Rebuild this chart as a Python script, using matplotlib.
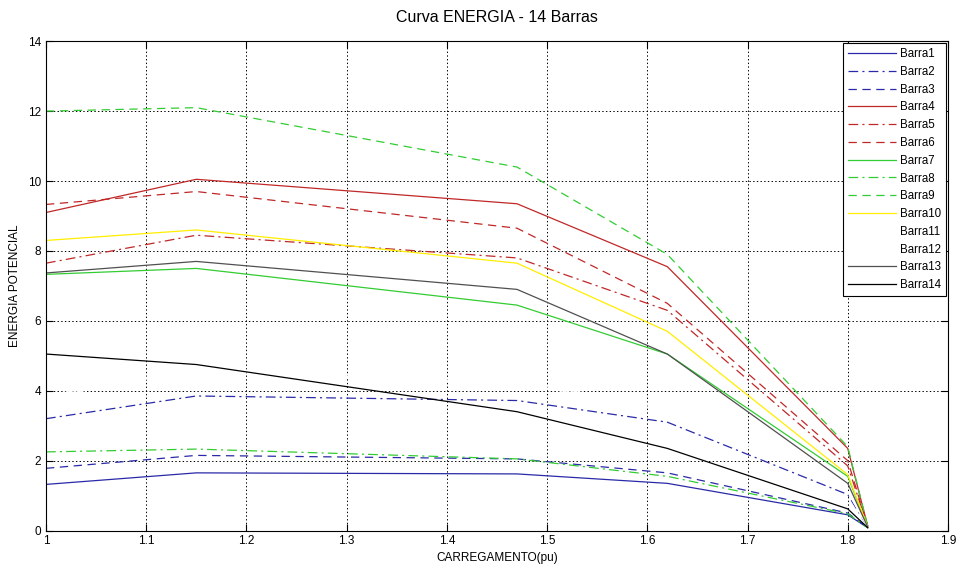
import matplotlib
matplotlib.use("Agg")
import matplotlib.pyplot as plt

plt.rcParams['font.family'] = ['Liberation Sans', 'DejaVu Sans']
plt.rcParams['lines.scale_dashes'] = False

# carregamento (pu)
carga = [1.0, 1.15, 1.47, 1.62, 1.80, 1.82]

barras = ["Barra1", "Barra2", "Barra3", "Barra4", "Barra5", "Barra6", "Barra7",
          "Barra8", "Barra9", "Barra10", "Barra11", "Barra12", "Barra13", "Barra14"]

barra1 = [1.32, 1.65, 1.62, 1.35, 0.45, 0.08]
barra2 = [3.20, 3.85, 3.72, 3.10, 1.03, 0.10]
barra3 = [1.78, 2.15, 2.05, 1.65, 0.50, 0.08]
barra4 = [9.10, 10.05, 9.35, 7.55, 2.35, 0.12]
barra5 = [7.65, 8.45, 7.80, 6.30, 1.85, 0.12]
barra6 = [9.33, 9.70, 8.65, 6.50, 2.00, 0.12]
barra7 = [7.33, 7.50, 6.45, 5.05, 1.55, 0.10]
barra8 = [2.25, 2.33, 2.05, 1.55, 0.48, 0.08]
barra9 = [12.00, 12.10, 10.40, 7.90, 2.40, 0.12]
barra10 = [8.30, 8.60, 7.65, 5.70, 1.60, 0.10]
barra11 = [3.80, 4.60, 4.20, 3.50, 1.10, 0.10]
barra12 = [3.85, 4.65, 4.25, 3.55, 1.12, 0.10]
barra13 = [7.37, 7.70, 6.90, 5.05, 1.35, 0.10]
barra14 = [5.05, 4.75, 3.40, 2.35, 0.62, 0.08]

valores = [barra1, barra2, barra3, barra4, barra5, barra6, barra7,
           barra8, barra9, barra10, barra11, barra12, barra13, barra14]

azul = '#2a2aa8'
verm = '#c02828'
verde = '#33cc33'
solido = (None, None)
traco = (6, 4)
tracoponto = (7, 3, 1.5, 3)
estilos = [(azul, solido), (azul, tracoponto), (azul, traco),
           (verm, solido), (verm, tracoponto), (verm, traco),
           (verde, solido), (verde, tracoponto), (verde, traco),
           ('#ffee00', solido), ('white', solido), ('white', solido),
           ('#505050', solido), ('black', solido)]

fig = plt.figure(figsize=(9.58, 5.65), dpi=100)
ax = fig.add_axes([0.048, 0.061, 0.9415, 0.866])

for nome, v, (cor, dash) in zip(barras, valores, estilos):
    linha, = ax.plot(carga, v, color=cor, lw=0.9, label=nome)
    if dash[0] is not None:
        linha.set_dashes(dash)

ax.set_xlim(1, 1.9)
ax.set_ylim(0, 14)
ax.set_xticks([1, 1.1, 1.2, 1.3, 1.4, 1.5, 1.6, 1.7, 1.8, 1.9])
ax.set_xticklabels(["1", "1.1", "1.2", "1.3", "1.4", "1.5", "1.6", "1.7", "1.8", "1.9"])
ax.set_yticks(range(0, 15, 2))
ax.tick_params(direction='in', top=True, right=True, labelsize=8.5, length=5, width=0.8)
ax.grid(True, linestyle=':', color='black', lw=0.7)
for s in ax.spines.values():
    s.set_linewidth(0.8)

ax.set_title("Curva ENERGIA - 14 Barras", fontsize=11.5, pad=14)
ax.set_xlabel("CARREGAMENTO(pu)", fontsize=8.5, labelpad=3)
ax.set_ylabel("ENERGIA POTENCIAL", fontsize=8.5, labelpad=5)

leg = ax.legend(loc='upper right', fontsize=8.3, handlelength=4.2, handletextpad=0.3,
                labelspacing=0.5, borderpad=0.45, borderaxespad=0.15,
                fancybox=False, framealpha=1, edgecolor='black')
leg.get_frame().set_linewidth(0.8)

plt.savefig("out.png", dpi=100)
plt.close()
